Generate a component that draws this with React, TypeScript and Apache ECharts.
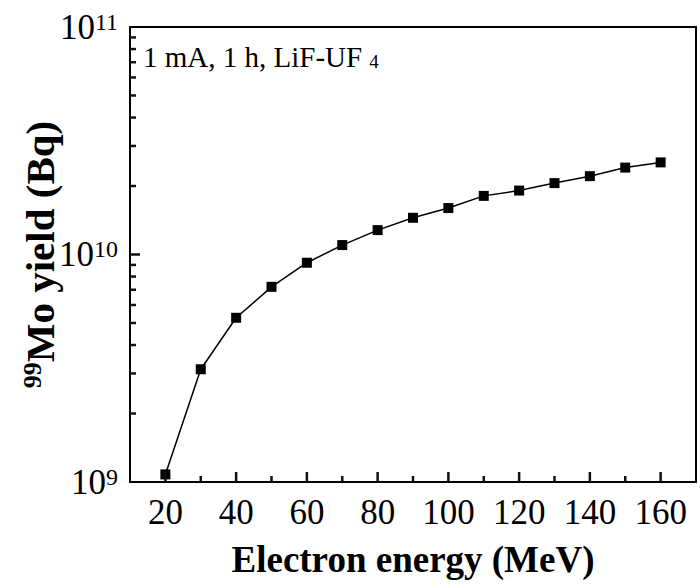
import React, { useEffect, useRef } from "react";
import * as echarts from "echarts";

// electron energy (MeV) and 99Mo yield (Bq)
const energies = [20, 30, 40, 50, 60, 70, 80, 90, 100, 110, 120, 130, 140, 150, 160];
const yields = [
  1.08e9, 3.13e9, 5.27e9, 7.21e9, 9.2e9, 1.1e10, 1.28e10, 1.45e10, 1.6e10, 1.81e10,
  1.91e10, 2.06e10, 2.21e10, 2.41e10, 2.54e10,
];
const xMajorTicks = [20, 40, 60, 80, 100, 120, 140, 160];
const xMinorTicks = [30, 50, 70, 90, 110, 130, 150];
const yMajorTicks = [1e10];
const yMinorTicks = [
  2e9, 3e9, 4e9, 5e9, 6e9, 7e9, 8e9, 9e9, 2e10, 3e10, 4e10, 5e10, 6e10, 7e10, 8e10, 9e10,
];

const FONT = "Liberation Serif";
const INK = "#111";

// inward tick marks, placed through the axes' own scales
const tickSeries = (points: number[][], dx: number, dy: number) => ({
  type: "custom",
  silent: true,
  clip: false,
  data: points,
  renderItem: (_p: any, api: any) => {
    const pt = api.coord([api.value(0), api.value(1)]);
    return {
      type: "line",
      shape: { x1: pt[0], y1: pt[1], x2: pt[0] + dx, y2: pt[1] + dy },
      style: { stroke: INK, lineWidth: 2.5 },
    };
  },
  z: 4,
});

const App: React.FC = () => {
  const chartRef = useRef<HTMLDivElement>(null);

  useEffect(() => {
    if (!chartRef.current) return;
    const chart = echarts.init(chartRef.current, undefined, { renderer: "svg" });

    const frameAxis = {
      show: true,
      axisLine: { show: true, lineStyle: { color: "#000", width: 2 } },
      axisTick: { show: false },
      axisLabel: { show: false },
      splitLine: { show: false },
    };

    const option = {
      animation: false,
      backgroundColor: "#fff",
      grid: { left: 130, right: 4, top: 27, bottom: 103 },
      xAxis: [
        {
          type: "value",
          min: 10,
          max: 170,
          interval: 10,
          splitLine: { show: false },
          axisLine: { show: true, lineStyle: { color: "#000", width: 2 } },
          axisTick: { show: false },
          axisLabel: {
            margin: 13,
            fontFamily: FONT,
            fontSize: 35,
            color: "#000",
            formatter: (v: number) => (v % 20 === 0 && v >= 20 && v <= 160 ? String(v) : ""),
          },
          name: "Electron energy (MeV)",
          nameLocation: "middle",
          nameGap: 59,
          nameMoveOverlap: false,
          nameTextStyle: { fontFamily: FONT, fontSize: 37, fontWeight: "bold", color: "#000" },
        },
        { ...frameAxis, type: "value", min: 10, max: 170, position: "top" },
      ],
      yAxis: [
        {
          type: "log",
          logBase: 10,
          min: 1e9,
          max: 1e11,
          splitLine: { show: false },
          axisLine: { show: true, lineStyle: { color: "#000", width: 2 } },
          axisTick: { show: false },
          axisLabel: {
            margin: 12,
            formatter: (v: number) => `{b|10}{s|${Math.round(Math.log10(v))}}`,
            rich: {
              b: { fontFamily: FONT, fontSize: 35, color: "#000" },
              s: { fontFamily: FONT, fontSize: 24, color: "#000", verticalAlign: "top" },
            },
          },
          name: "{s|99}{b|Mo yield (Bq)}",
          nameLocation: "middle",
          nameRotate: 90,
          nameGap: 70,
          nameMoveOverlap: false,
          nameTextStyle: {
            rich: {
              b: { fontFamily: FONT, fontSize: 41, fontWeight: "bold", color: "#000" },
              s: {
                fontFamily: FONT,
                fontSize: 26,
                fontWeight: "bold",
                color: "#000",
                verticalAlign: "top",
              },
            },
          },
        },
        { ...frameAxis, type: "log", logBase: 10, min: 1e9, max: 1e11, position: "right" },
      ],
      graphic: [
        {
          type: "text",
          left: 143,
          top: 42,
          style: {
            text: "{a|1 mA, 1 h, LiF-UF}{s|4}",
            rich: {
              a: { fontFamily: FONT, fontSize: 29, fill: "#000" },
              s: {
                fontFamily: FONT,
                fontSize: 19,
                fill: "#000",
                verticalAlign: "bottom",
                padding: [0, 0, 0, 7],
              },
            },
          },
        },
      ],
      series: [
        {
          type: "line",
          data: energies.map((e, i) => [e, yields[i]]),
          symbol: "rect",
          symbolSize: 10,
          itemStyle: { color: "#000" },
          lineStyle: { color: "#000", width: 1.5 },
          z: 3,
        },
        tickSeries(xMajorTicks.map((v) => [v, 1e9]), 0, -10),
        tickSeries(xMinorTicks.map((v) => [v, 1e9]), 0, -6),
        tickSeries(yMajorTicks.map((v) => [10, v]), 10, 0),
        tickSeries(yMinorTicks.map((v) => [10, v]), 6, 0),
      ],
    };

    chart.setOption(option);

    return () => {
      chart.dispose();
    };
  }, []);

  return (
    <div
      ref={chartRef}
      style={{ position: "fixed", left: 0, top: 0, width: 700, height: 585 }}
    />
  );
};

export default App;
